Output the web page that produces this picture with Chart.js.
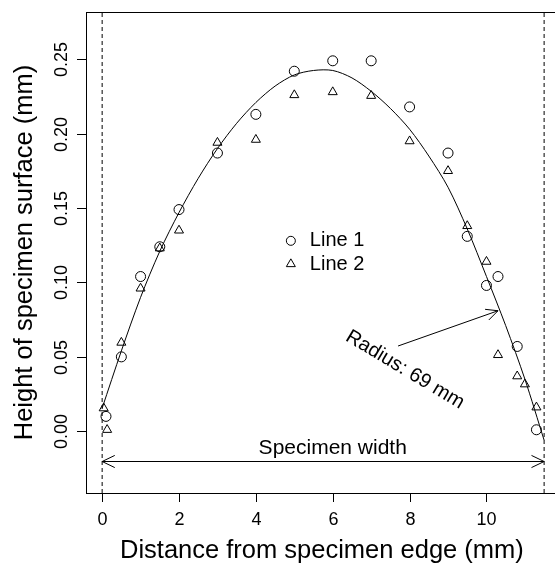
<!DOCTYPE html>
<html>
<head>
<meta charset="utf-8">
<script src="https://cdn.jsdelivr.net/npm/chart.js@4/dist/chart.umd.min.js"></script>
<style>
  html, body { margin: 0; padding: 0; overflow: hidden; background: #fff; }
  #c { display: block; }
</style>
</head>
<body>
<canvas id="c" width="568" height="563"></canvas>
<script>
// measured heights (mm) along the specimen
const line1X = [0.1, 0.5, 1, 1.5, 2, 3, 4, 5, 6, 7, 8, 9, 9.5, 10, 10.3, 10.8, 11.3];
const line1Y = [0.010, 0.050, 0.104, 0.124, 0.149, 0.187, 0.213, 0.242, 0.249, 0.249, 0.218, 0.187, 0.131, 0.098, 0.104, 0.057, 0.001];

const line2X = [0.04, 0.13, 0.5, 1, 1.5, 2, 3, 4, 5, 6, 7, 8, 9, 9.5, 10, 10.3, 10.8, 11, 11.3];
const line2Y = [0.0155, 0.001, 0.0596, 0.096, 0.123, 0.135, 0.194, 0.196, 0.226, 0.228, 0.2255, 0.195, 0.175, 0.138, 0.114, 0.0513, 0.037, 0.0316, 0.0161];

// fitted arc
const fitX = [0, 0.5, 1, 1.5, 2, 2.5, 3, 3.5, 4, 4.5, 5, 5.5, 6, 6.5, 7, 7.5, 8, 8.5, 9, 9.5, 10, 10.5, 11, 11.5];
const fitY = [0.0155, 0.054, 0.090, 0.121, 0.147, 0.170, 0.190, 0.207, 0.221, 0.232, 0.2395, 0.2425, 0.2425, 0.2375, 0.2285, 0.217, 0.203, 0.185, 0.164, 0.136, 0.104, 0.071, 0.035, -0.006];

const edgeX = [0, 11.5];
const widthArrowY = -0.02;
const radiusArrow = [7.70, 0.0573, 10.30, 0.081];

const xTicks = [0, 2, 4, 6, 8, 10];
const yTicks = [0, 0.05, 0.10, 0.15, 0.20, 0.25];
const yTickLabels = ["0.00", "0.05", "0.10", "0.15", "0.20", "0.25"];
const xLimits = [-0.42, 11.96];
const yLimits = [-0.0415, 0.2818];

const seriesNames = ["Line 1", "Line 2"];
const xTitle = "Distance from specimen edge (mm)";
const yTitle = "Height of specimen surface (mm)";

const FONT = '"Liberation Sans", Arial, Helvetica, sans-serif';
const pts = (xs, ys) => xs.map((v, i) => ({ x: v, y: ys[i] }));

const overlay = {
  id: 'overlay',
  afterDatasetsDraw(chart) {
    const { ctx, chartArea: a, scales: { x, y } } = chart;
    ctx.save();
    ctx.strokeStyle = '#000';
    ctx.fillStyle = '#000';
    ctx.lineWidth = 1;

    const seg = (x1, y1, x2, y2) => { ctx.beginPath(); ctx.moveTo(x1, y1); ctx.lineTo(x2, y2); ctx.stroke(); };
    const head = (x1, y1, x2, y2, len, ang) => {
      const t = Math.atan2(y2 - y1, x2 - x1);
      ctx.beginPath();
      ctx.moveTo(x2 - len * Math.cos(t - ang), y2 - len * Math.sin(t - ang));
      ctx.lineTo(x2, y2);
      ctx.lineTo(x2 - len * Math.cos(t + ang), y2 - len * Math.sin(t + ang));
      ctx.stroke();
    };

    // box
    ctx.strokeRect(a.left + 0.5, a.top + 0.5, a.right - a.left, a.bottom - a.top);

    // x axis ticks
    ctx.font = '18px ' + FONT;
    ctx.textAlign = 'center';
    ctx.textBaseline = 'alphabetic';
    xTicks.forEach(v => {
      const px = Math.round(x.getPixelForValue(v)) + 0.5;
      seg(px, a.bottom, px, a.bottom + 9);
      ctx.fillText(String(v), px, a.bottom + 32);
    });

    // y axis ticks (labels parallel to axis)
    yTicks.forEach((v, i) => {
      const py = Math.round(y.getPixelForValue(v)) + 0.5;
      seg(a.left - 9, py, a.left, py);
      ctx.save();
      ctx.translate(a.left - 19.5, py);
      ctx.rotate(-Math.PI / 2);
      ctx.fillText(yTickLabels[i], 0, 0);
      ctx.restore();
    });

    // axis titles
    ctx.font = '25.5px ' + FONT;
    ctx.fillText(xTitle, (a.left + a.right) / 2 - 2, 558);
    ctx.save();
    ctx.translate(31.5, (a.top + a.bottom) / 2);
    ctx.rotate(-Math.PI / 2);
    ctx.fillText(yTitle, 0, 0);
    ctx.restore();

    // specimen width arrow
    const wy = Math.round(y.getPixelForValue(widthArrowY)) + 0.5;
    const wx1 = x.getPixelForValue(edgeX[0]);
    const wx2 = x.getPixelForValue(edgeX[1]);
    seg(wx1, wy, wx2, wy);
    head(wx2, wy, wx1, wy, 14, Math.PI / 7);
    head(wx1, wy, wx2, wy, 14, Math.PI / 7);
    ctx.font = '21px ' + FONT;
    ctx.fillText('Specimen width', x.getPixelForValue(6), wy - 8);

    // radius arrow + label
    const r1x = x.getPixelForValue(radiusArrow[0]), r1y = y.getPixelForValue(radiusArrow[1]);
    const r2x = x.getPixelForValue(radiusArrow[2]), r2y = y.getPixelForValue(radiusArrow[3]);
    seg(r1x, r1y, r2x, r2y);
    head(r1x, r1y, r2x, r2y, 13, Math.PI / 7);
    ctx.save();
    ctx.font = '20px ' + FONT;
    ctx.textBaseline = 'middle';
    ctx.translate(x.getPixelForValue(7.88), y.getPixelForValue(0.0413));
    ctx.rotate(31 * Math.PI / 180);
    ctx.fillText('Radius: 69 mm', 0, 0);
    ctx.restore();

    // legend
    const lx = x.getPixelForValue(4.91);
    const ly1 = y.getPixelForValue(0.128);
    const ly2 = y.getPixelForValue(0.1124);
    ctx.beginPath();
    ctx.arc(lx, ly1, 4.5, 0, Math.PI * 2);
    ctx.stroke();
    const tr = 5.2;
    ctx.beginPath();
    ctx.moveTo(lx, ly2 - tr);
    ctx.lineTo(lx + tr * 0.866, ly2 + tr * 0.5);
    ctx.lineTo(lx - tr * 0.866, ly2 + tr * 0.5);
    ctx.closePath();
    ctx.stroke();
    ctx.font = '20px ' + FONT;
    ctx.textAlign = 'left';
    ctx.textBaseline = 'middle';
    ctx.fillText(seriesNames[0], lx + 19, ly1);
    ctx.fillText(seriesNames[1], lx + 19, ly2);

    ctx.restore();
  }
};

new Chart(document.getElementById('c'), {
  type: 'scatter',
  data: {
    datasets: [
      {
        label: 'fit',
        data: pts(fitX, fitY),
        showLine: true,
        borderColor: '#000',
        borderWidth: 1,
        pointRadius: 0,
        tension: 0.3,
        fill: false,
      },
      {
        label: 'edge0',
        data: pts([edgeX[0], edgeX[0]], yLimits),
        showLine: true,
        borderColor: '#000',
        borderWidth: 1,
        borderDash: [4, 3],
        pointRadius: 0,
      },
      {
        label: 'edge1',
        data: pts([edgeX[1], edgeX[1]], yLimits),
        showLine: true,
        borderColor: '#000',
        borderWidth: 1,
        borderDash: [4, 3],
        pointRadius: 0,
      },
      {
        label: seriesNames[0],
        data: pts(line1X, line1Y),
        pointStyle: 'circle',
        pointRadius: 5,
        borderColor: '#000',
        backgroundColor: 'rgba(0,0,0,0)',
        borderWidth: 1,
      },
      {
        label: seriesNames[1],
        data: pts(line2X, line2Y),
        pointStyle: 'triangle',
        pointRadius: 5.2,
        borderColor: '#000',
        backgroundColor: 'rgba(0,0,0,0)',
        borderWidth: 1,
      },
    ],
  },
  options: {
    responsive: false,
    animation: false,
    devicePixelRatio: 1,
    layout: { padding: { left: 86, top: 12, right: 2, bottom: 70 } },
    scales: {
      x: { type: 'linear', min: xLimits[0], max: xLimits[1], display: false },
      y: { type: 'linear', min: yLimits[0], max: yLimits[1], display: false },
    },
    plugins: {
      legend: { display: false },
      tooltip: { enabled: false },
    },
  },
  plugins: [overlay],
});
</script>
</body>
</html>
